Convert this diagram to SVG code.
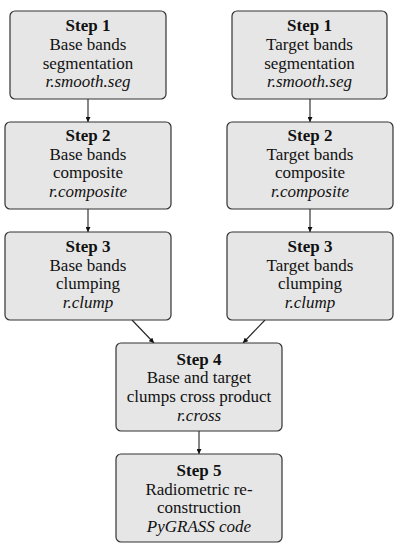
<svg xmlns="http://www.w3.org/2000/svg" width="400" height="550" viewBox="0 0 400 550">
<style>
.box{fill:#e6e6e6;stroke:#333;stroke-width:1.2}
text{font-family:'Liberation Serif',Lato,serif;font-size:17px;fill:#111;text-anchor:middle}
.b{font-weight:bold}
.i{font-style:italic}
.c{stroke:#222;stroke-width:1.1;fill:none;marker-end:url(#ah)}
</style>
<defs>
<marker id="ah" viewBox="0 0 10 10" refX="10" refY="5" markerWidth="5" markerHeight="5" markerUnits="userSpaceOnUse" orient="auto">
<path d="M0,0 L10,5 L0,10 z" fill="#111"/>
</marker>
</defs>
<rect width="400" height="550" fill="#fff"/>
<g id="connectors">
<line class="c" x1="88" y1="99" x2="88" y2="122"/>
<line class="c" x1="88" y1="209" x2="88" y2="232"/>
<line class="c" x1="310" y1="99" x2="310" y2="122"/>
<line class="c" x1="310" y1="209" x2="310" y2="232"/>
<line class="c" x1="132" y1="320" x2="154" y2="343"/>
<line class="c" x1="265" y1="320" x2="243" y2="343"/>
<line class="c" x1="199" y1="431" x2="199" y2="454"/>
</g>
<g id="L1">
<rect class="box" x="10" y="11" width="156" height="88" rx="5"/>
<text class="b" x="88" y="31">Step 1</text>
<text x="88" y="50">Base bands</text>
<text x="88" y="68.5">segmentation</text>
<text class="i" x="88" y="87">r.smooth.seg</text>
</g>
<g id="R1">
<rect class="box" x="232" y="11" width="155" height="88" rx="5"/>
<text class="b" x="309.5" y="31">Step 1</text>
<text x="309.5" y="50">Target bands</text>
<text x="309.5" y="68.5">segmentation</text>
<text class="i" x="309.5" y="87">r.smooth.seg</text>
</g>
<g id="L2">
<rect class="box" x="5" y="122" width="166" height="87" rx="5"/>
<text class="b" x="88" y="141">Step 2</text>
<text x="88" y="159.7">Base bands</text>
<text x="88" y="178.4">composite</text>
<text class="i" x="88" y="197">r.composite</text>
</g>
<g id="R2">
<rect class="box" x="227" y="122" width="166" height="87" rx="5"/>
<text class="b" x="310" y="141">Step 2</text>
<text x="310" y="159.7">Target bands</text>
<text x="310" y="178.4">composite</text>
<text class="i" x="310" y="197">r.composite</text>
</g>
<g id="L3">
<rect class="box" x="5" y="232" width="166" height="88" rx="5"/>
<text class="b" x="88" y="252">Step 3</text>
<text x="88" y="270.7">Base bands</text>
<text x="88" y="289.4">clumping</text>
<text class="i" x="88" y="308">r.clump</text>
</g>
<g id="R3">
<rect class="box" x="227" y="232" width="166" height="88" rx="5"/>
<text class="b" x="310" y="252">Step 3</text>
<text x="310" y="270.7">Target bands</text>
<text x="310" y="289.4">clumping</text>
<text class="i" x="310" y="308">r.clump</text>
</g>
<g id="S4">
<rect class="box" x="116" y="343" width="166" height="88" rx="5"/>
<text class="b" x="199" y="364.5">Step 4</text>
<text x="199" y="383.2">Base and target</text>
<text x="199" y="401.9">clumps cross product</text>
<text class="i" x="199" y="420.6">r.cross</text>
</g>
<g id="S5">
<rect class="box" x="116" y="454" width="166" height="88" rx="5"/>
<text class="b" x="199" y="476">Step 5</text>
<text x="199" y="494.7">Radiometric re-</text>
<text x="199" y="513.4">construction</text>
<text class="i" x="199" y="532">PyGRASS code</text>
</g>
</svg>
